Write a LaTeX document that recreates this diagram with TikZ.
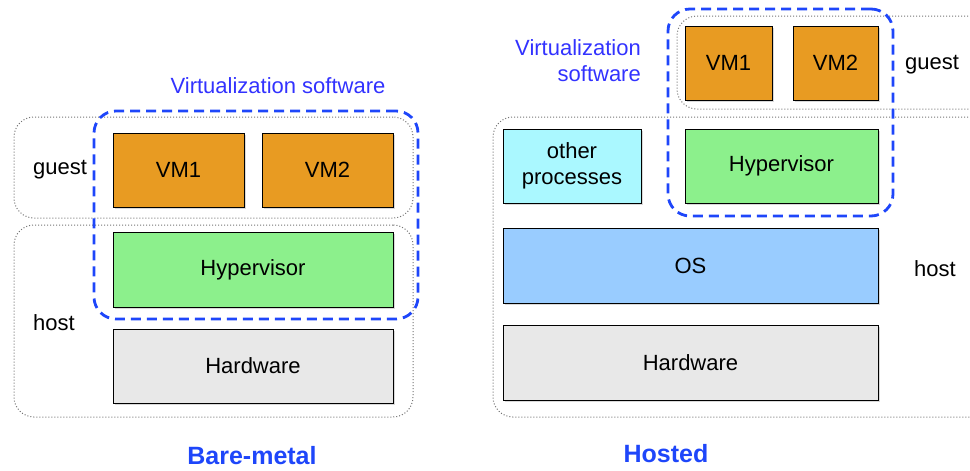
\documentclass[tikz,border=0pt]{standalone}
\usepackage{fontspec}
\setmainfont{Liberation Sans}
\usetikzlibrary{shadows}
\definecolor{vmorange}{RGB}{232,155,34}
\definecolor{hypgreen}{RGB}{140,240,140}
\definecolor{hwgray}{RGB}{232,232,232}
\definecolor{osblue}{RGB}{153,204,255}
\definecolor{othcyan}{RGB}{170,248,255}
\definecolor{virtblue}{RGB}{30,70,250}
\definecolor{txtblue}{RGB}{50,50,255}
\tikzset{
  layerbox/.style={draw, line width=1pt, inner sep=0pt, align=center,
    drop shadow={shadow xshift=2pt, shadow yshift=-2pt, opacity=0.3}},
  groupbox/.style={draw=black!55, line width=1pt, dash pattern=on 1pt off 2pt,
    rounded corners=20pt, inner sep=0pt},
  virtbox/.style={draw=virtblue, line width=2.8pt, dash pattern=on 10pt off 6pt,
    rounded corners=22pt, inner sep=0pt},
  lbl/.style={inner sep=0pt, font=\fontsize{22}{26}\selectfont},
  title/.style={inner sep=0pt, text=virtblue, font=\fontsize{25}{30}\selectfont\bfseries}
}
\begin{document}
\begin{tikzpicture}[x=1pt,y=-1pt,font=\fontsize{22}{26}\selectfont]
\useasboundingbox (0,0) rectangle (970,471);
\begin{scope}
\clip (0,0) rectangle (970,471);
\node[groupbox, minimum width=399pt, minimum height=101pt] (guestL) at (213.5,167.5) {};
\node[groupbox, minimum width=399pt, minimum height=192pt] (hostL) at (213.5,321) {};
\node[groupbox, minimum width=323pt, minimum height=93pt] (guestR) at (838.5,62.5) {};
\node[groupbox, minimum width=507pt, minimum height=300pt] (hostR) at (746.5,267) {};
\end{scope}
\node[layerbox, fill=vmorange, minimum width=131pt, minimum height=74pt] (vm1L) at (178.5,170) {VM1};
\node[layerbox, fill=vmorange, minimum width=131pt, minimum height=74pt] (vm2L) at (327.5,170) {VM2};
\node[layerbox, fill=hypgreen, minimum width=280pt, minimum height=75pt] (hypL) at (253,269.5) {Hypervisor};
\node[layerbox, fill=hwgray, minimum width=280pt, minimum height=74pt] (hwL) at (253,366) {Hardware};
\node[virtbox, minimum width=324pt, minimum height=208pt] (virtL) at (256,215) {};
\node[lbl, text=txtblue] (virtLtxt) at (278,86) {Virtualization software};
\node[lbl] (guestLtxt) at (60,170) {guest};
\node[lbl] (hostLtxt) at (54,323) {host};
\node[title] (bare) at (252,456) {Bare-metal};
\node[layerbox, fill=vmorange, minimum width=87pt, minimum height=74pt] (vm1R) at (728.5,63) {VM1};
\node[layerbox, fill=vmorange, minimum width=85pt, minimum height=74pt] (vm2R) at (835.5,63) {VM2};
\node[layerbox, fill=othcyan, minimum width=138pt, minimum height=74pt] (othR) at (572,166) {other\\processes};
\node[layerbox, fill=hypgreen, minimum width=193pt, minimum height=74pt] (hypR) at (781.5,166) {Hypervisor};
\node[layerbox, fill=osblue, minimum width=375pt, minimum height=75pt] (osR) at (690.5,265.5) {OS};
\node[layerbox, fill=hwgray, minimum width=375pt, minimum height=75pt] (hwR) at (690.5,362.5) {Hardware};
\node[virtbox, minimum width=225pt, minimum height=207pt] (virtR) at (780.5,112.5) {};
\node[lbl, text=txtblue, align=right, anchor=east] (virtRtxt) at (641,61) {Virtualization\\software};
\node[lbl] (guestRtxt) at (932,65) {guest};
\node[lbl] (hostRtxt) at (935,269) {host};
\node[title] (hosted) at (666,454) {Hosted};
\end{tikzpicture}
\end{document}
